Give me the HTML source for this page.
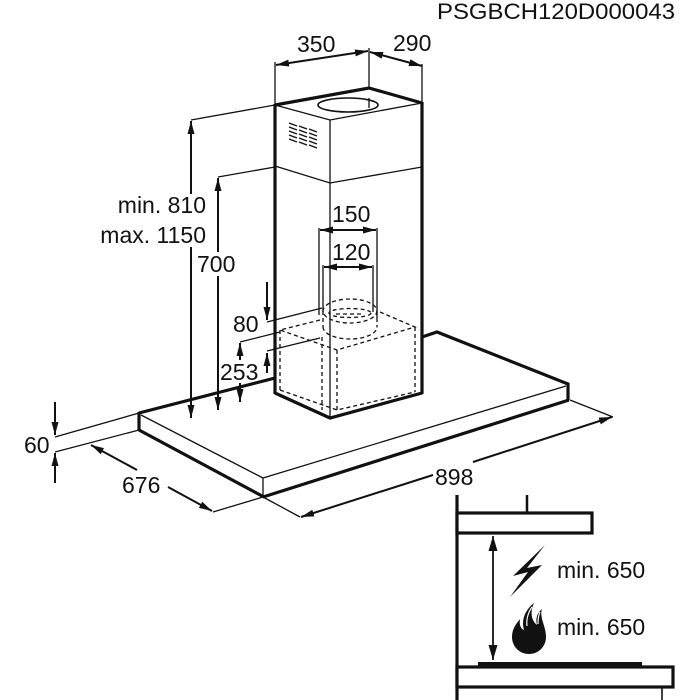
<!DOCTYPE html>
<html><head><meta charset="utf-8"><style>
html,body{margin:0;padding:0;background:#fff;}
svg{display:block;}
text{font-family:"Liberation Sans",Arial,sans-serif;font-size:23px;fill:#111;}
.k{stroke:#111;stroke-width:3.2;fill:none;stroke-linejoin:miter;}
.t{stroke:#111;stroke-width:1.3;fill:none;}
.d{stroke:#111;stroke-width:1.3;fill:none;stroke-dasharray:4 3;}
.a{stroke:#111;stroke-width:2;fill:none;}
</style></head><body>
<svg width="700" height="700" viewBox="0 0 700 700" xmlns="http://www.w3.org/2000/svg">
<defs>
<marker id="m" viewBox="0 0 13 7" refX="13" refY="3.5" markerWidth="13" markerHeight="7" markerUnits="userSpaceOnUse" orient="auto-start-reverse"><path d="M0,0L13,3.5L0,7z" fill="#111"/></marker>
<marker id="mb" viewBox="0 0 15 9" refX="15" refY="4.5" markerWidth="15" markerHeight="9" markerUnits="userSpaceOnUse" orient="auto-start-reverse"><path d="M0,0L15,4.5L0,9z" fill="#111"/></marker>
</defs>

<!-- title -->
<text x="437" y="19" textLength="238" lengthAdjust="spacingAndGlyphs" style="font-size:22px">PSGBCH120D000043</text>

<!-- chimney -->
<polyline class="k" points="275,105 369,88 422,103"/>
<line class="k" x1="275" y1="104" x2="275" y2="394"/>
<line class="k" x1="422" y1="102" x2="422" y2="394"/>
<polyline class="k" points="275,393 330,418 422,393"/>
<polyline class="t" points="275,105 330,120 422,103"/>
<line class="t" x1="330" y1="120" x2="330" y2="418"/>
<polyline class="t" points="275,166 330,183 422,167"/>
<ellipse class="t" cx="348" cy="105" rx="30" ry="7" style="stroke-width:1.6"/>
<line class="t" x1="369" y1="98" x2="369" y2="108"/>
<!-- vents -->
<g class="t" style="stroke-width:1.4">
<line x1="289" y1="123" x2="297" y2="126"/><line x1="289" y1="127" x2="297" y2="130"/><line x1="289" y1="131" x2="297" y2="134"/><line x1="289" y1="135" x2="297" y2="138"/><line x1="289" y1="139" x2="297" y2="142"/>
<line x1="299" y1="126" x2="307" y2="129"/><line x1="299" y1="130" x2="307" y2="133"/><line x1="299" y1="134" x2="307" y2="137"/><line x1="299" y1="138" x2="307" y2="141"/><line x1="299" y1="142" x2="307" y2="145"/>
<line x1="309" y1="129" x2="317" y2="132"/><line x1="309" y1="133" x2="317" y2="136"/><line x1="309" y1="137" x2="317" y2="140"/><line x1="309" y1="141" x2="317" y2="144"/><line x1="309" y1="145" x2="317" y2="148"/>
</g>

<!-- 350 / 290 -->
<line class="t" x1="275" y1="62" x2="275" y2="105"/>
<line class="t" x1="369" y1="48" x2="369" y2="88"/>
<line class="t" x1="422" y1="64" x2="422" y2="103"/>
<line class="a" x1="276" y1="65" x2="368" y2="51" marker-start="url(#m)" marker-end="url(#m)"/>
<line class="a" x1="370" y1="52" x2="422" y2="66" marker-start="url(#m)" marker-end="url(#m)"/>
<text x="297" y="52">350</text>
<text x="393" y="51">290</text>

<!-- left height dims -->
<line class="t" x1="191" y1="120" x2="275" y2="105"/>
<line class="a" x1="191" y1="194" x2="191" y2="121" marker-end="url(#m)"/>
<line class="a" x1="191" y1="247" x2="191" y2="418" marker-end="url(#m)"/>
<text x="206" y="213" text-anchor="end">min. 810</text>
<text x="206" y="243" text-anchor="end">max. 1150</text>

<line class="t" x1="218" y1="177" x2="275" y2="167"/>
<line class="a" x1="218" y1="252" x2="218" y2="178" marker-end="url(#m)"/>
<line class="a" x1="218" y1="276" x2="218" y2="410" marker-end="url(#m)"/>
<text x="197" y="272">700</text>

<!-- 80 / 253 -->
<line class="a" x1="267" y1="282" x2="267" y2="320" marker-end="url(#m)"/>
<line class="t" x1="267" y1="322" x2="322" y2="308"/>
<text x="233" y="332">80</text>
<line class="a" x1="240" y1="360" x2="240" y2="343" marker-end="url(#m)"/>
<line class="t" x1="240" y1="342" x2="280" y2="332"/>
<line class="a" x1="267" y1="373" x2="267" y2="353" marker-end="url(#m)"/>
<line class="t" x1="267" y1="351" x2="320" y2="338"/>
<text x="220" y="380">253</text>
<line class="a" x1="240" y1="383" x2="240" y2="402" marker-end="url(#m)"/>

<!-- pipe dims 150 / 120 -->
<line class="t" x1="319" y1="228" x2="319" y2="315"/>
<line class="t" x1="377" y1="228" x2="377" y2="318"/>
<line class="t" x1="323" y1="265" x2="323" y2="312"/>
<line class="t" x1="373" y1="265" x2="373" y2="312"/>
<line class="a" x1="320" y1="230" x2="376" y2="230" marker-start="url(#m)" marker-end="url(#m)"/>
<line class="a" x1="324" y1="267" x2="372" y2="267" marker-start="url(#m)" marker-end="url(#m)"/>
<text x="332" y="222">150</text>
<text x="332" y="260">120</text>

<!-- dashed motor box & pipe -->
<ellipse class="d" cx="350" cy="311" rx="27" ry="12"/>
<ellipse class="d" cx="350" cy="313" rx="21" ry="4.5"/>
<line class="d" x1="336" y1="314" x2="364" y2="314"/>
<line class="d" x1="323" y1="311" x2="323" y2="327"/>
<line class="d" x1="377" y1="311" x2="377" y2="327"/>
<path class="d" d="M323,327 A27,12 0 0 0 377,327"/>
<polyline class="d" points="320,320 280,330 337,350 415,327 380,312"/>
<line class="d" x1="280" y1="330" x2="280" y2="390"/>
<line class="d" x1="337" y1="350" x2="337" y2="410"/>
<line class="d" x1="415" y1="327" x2="415" y2="392"/>
<line class="d" x1="322" y1="337" x2="322" y2="410"/>
<polyline class="d" points="280,390 337,410 415,392"/>

<!-- canopy -->
<line class="k" x1="139" y1="413" x2="275" y2="378"/>
<polyline class="k" points="422,337 437,332 568,384 568,400"/>
<line class="t" x1="566" y1="386" x2="263" y2="478"/>
<line class="k" x1="569" y1="400" x2="263" y2="497"/>
<line class="k" x1="139" y1="412" x2="139" y2="431"/>
<line class="t" x1="141" y1="415" x2="263" y2="478"/>
<line class="k" x1="139" y1="430" x2="264" y2="497"/>
<line class="t" x1="263" y1="478" x2="263" y2="497"/>

<!-- 60 -->
<line class="t" x1="55" y1="437" x2="139" y2="413"/>
<line class="t" x1="55" y1="452" x2="139" y2="430"/>
<line class="a" x1="55" y1="402" x2="55" y2="435" marker-end="url(#m)"/>
<line class="a" x1="55" y1="483" x2="55" y2="453" marker-end="url(#m)"/>
<text x="24" y="453">60</text>

<!-- 676 -->
<line class="t" x1="213" y1="512" x2="263" y2="497"/>
<line class="a" x1="137" y1="470" x2="91" y2="445" marker-end="url(#m)"/>
<line class="a" x1="168" y1="487" x2="212" y2="511" marker-end="url(#m)"/>
<text x="122" y="493">676</text>

<!-- 898 -->
<line class="t" x1="263" y1="497" x2="300" y2="517"/>
<line class="t" x1="570" y1="400" x2="613" y2="417"/>
<line class="a" x1="433" y1="475" x2="301" y2="517" marker-end="url(#m)"/>
<line class="a" x1="473" y1="462" x2="612" y2="417" marker-end="url(#m)"/>
<text x="435" y="485">898</text>

<!-- inset -->
<line class="k" x1="457" y1="495" x2="457" y2="700"/>
<rect x="457" y="513" width="135" height="20" style="fill:#fff;stroke:#111;stroke-width:3.2"/>
<line class="k" x1="527" y1="495" x2="527" y2="513" style="stroke-width:2.5"/>
<line class="a" x1="493" y1="536" x2="493" y2="660" marker-start="url(#mb)" marker-end="url(#mb)" style="stroke-width:1.8"/>
<path d="M545,545 L513,576 L528,572 L510,597 L542,565 L527,568 Z" fill="#111"/>
<text x="557" y="578">min. 650</text>
<path d="M529,654 C519,654 512,646 512,637 C512,629 516,624 520,619 C519,625 521,629 524,630 C521,620 525,610 534,603 C530,612 531,620 537,625 C535,618 538,612 542,609 C539,617 546,626 546,637 C546,646 539,654 529,654 Z" fill="#111"/>
<path d="M527,626 C526,618 529,611 532,607 M538,624 C538,618 539,614 540,612" stroke="#fff" stroke-width="1.2" fill="none"/>
<text x="557" y="635">min. 650</text>
<rect x="478" y="662" width="164" height="5" fill="#111"/>
<rect x="457" y="667" width="216" height="20" style="fill:#fff;stroke:#111;stroke-width:3.2"/>
<line class="t" x1="662" y1="687" x2="662" y2="700" style="stroke-width:1.6"/>
</svg>
</body></html>
